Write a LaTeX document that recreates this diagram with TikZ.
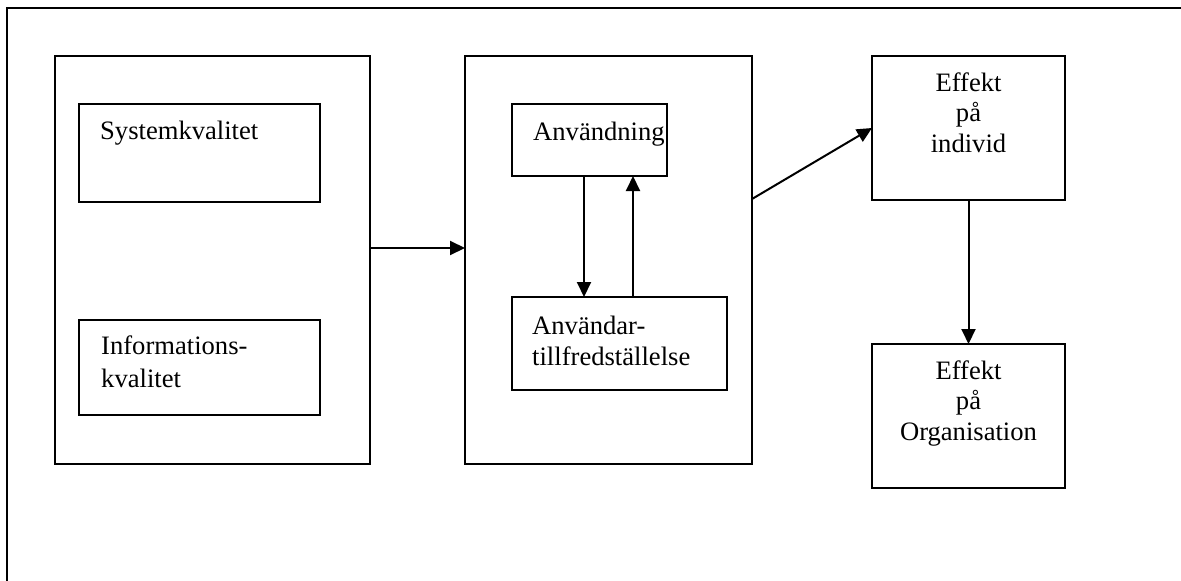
\documentclass[tikz,border=0pt]{standalone}
\usepackage{fontspec}
\setmainfont{Liberation Serif}
\usetikzlibrary{arrows.meta}
\begin{document}
\begin{tikzpicture}[x=1pt,y=-1pt,
  box/.style={draw=black,line width=2.2pt,anchor=north west,inner sep=0pt,outer sep=0pt},
  arr/.style={line width=2pt,-{Triangle[length=15pt,width=14pt]}},
  lbl/.style={inner sep=0pt,anchor=base west,font=\fontsize{26.6}{31}\selectfont},
  clbl/.style={inner sep=0pt,anchor=base,font=\fontsize{26.6}{31}\selectfont}]
\useasboundingbox (0,0) rectangle (1181,581);
\draw[line width=2.4pt] (7,600) -- (7,8) -- (1200,8);
% left group
\node[box,minimum width=315pt,minimum height=408pt] (L) at (55,56) {};
\node[box,minimum width=241pt,minimum height=98pt] (S) at (79,104) {};
\node[box,minimum width=241pt,minimum height=95pt] (I) at (79,320) {};
\node[lbl] (st) at (100,139) {Systemkvalitet};
\node[lbl] (it1) at (101,354) {Informations-};
\node[lbl] (it2) at (101,387) {kvalitet};
% middle group
\node[box,minimum width=287pt,minimum height=408pt] (M) at (465,56) {};
\node[box,minimum width=155pt,minimum height=72pt] (A) at (512,104) {};
\node[box,minimum width=215pt,minimum height=93pt] (U) at (512,297) {};
\node[lbl] (at) at (533,140) {Användning};
\node[lbl] (ut1) at (532,334) {Användar-};
\node[lbl] (ut2) at (532,365) {tillfredställelse};
% right
\node[box,minimum width=193pt,minimum height=144pt] (E1) at (872,56) {};
\node[box,minimum width=193pt,minimum height=144pt] (E2) at (872,344) {};
\node[clbl] (e11) at (968.5,91) {Effekt};
\node[clbl] (e12) at (968.5,121) {på};
\node[clbl] (e13) at (968.5,152) {individ};
\node[clbl] (e21) at (968.5,379) {Effekt};
\node[clbl] (e22) at (968.5,409) {på};
\node[clbl] (e23) at (968.5,440) {Organisation};
% connectors
\draw[arr] (L.east |- 0,248) -- (M.west |- 0,248);
\draw[arr] (A.south -| 584,0) -- (U.north -| 584,0);
\draw[arr] (U.north -| 633,0) -- (A.south -| 633,0);
\draw[arr] (M.east |- 0,199) -- (E1.west |- 0,128);
\draw[arr] (E1.south) -- (E2.north);
\end{tikzpicture}
\end{document}
